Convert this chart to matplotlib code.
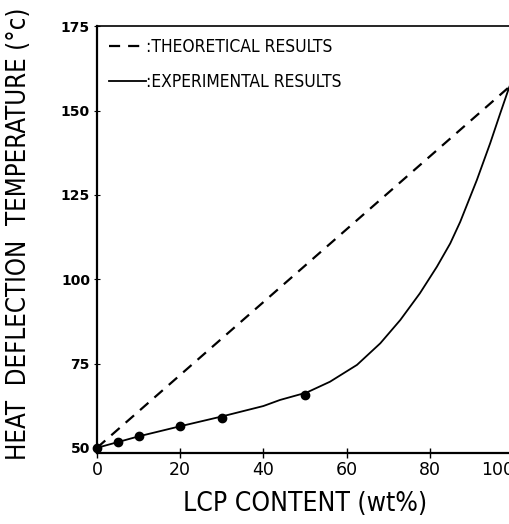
import matplotlib
matplotlib.use('Agg')
import matplotlib.pyplot as plt
import matplotlib.transforms as mtransforms

# heat deflection temperature vs LCP content
lcp_pts = [0, 5, 10, 20, 30, 50]
hdt_pts = [50.0, 51.6, 53.6, 56.6, 58.8, 65.7]

# experimental trend curve
curve_x = [0, 10, 20, 30, 40, 44.0, 50.4, 56.0, 62.5, 68.1, 72.9, 77.6,
           81.7, 84.9, 87.3, 91.3, 94.5, 96.9, 99.1, 100]
curve_y = [50, 53.4, 56.4, 59.3, 62.4, 64.2, 66.4, 69.6, 74.6, 81.0, 87.9, 95.8,
           103.7, 110.6, 117.0, 129.4, 140.3, 149.1, 157.0, 159.5]

# rule-of-mixtures line
theory_x = [0, 100]
theory_y = [50, 158]

xticks = [0, 20, 40, 60, 80, 100]
yticks = [50, 75, 100, 125, 150, 175]

THIN = dict(family='DejaVu Sans', stretch='condensed')

fig = plt.figure(figsize=(5.10, 5.24), dpi=100)
ax = fig.add_axes([0.19, 0.135, 0.816, 0.815])

ax.plot(theory_x, theory_y, color='black', lw=1.6, ls=(0, (5, 3.6)),
        label=':THEORETICAL RESULTS')
ax.plot(curve_x, curve_y, color='black', lw=1.3, label=':EXPERIMENTAL RESULTS')
ax.plot(lcp_pts, hdt_pts, 'o', color='black', ms=6, clip_on=False)

ax.set_xlim(0, 100)
ax.set_ylim(48.4, 175)
ax.set_xticks(xticks)
ax.set_yticks(yticks)
ax.set_xticklabels([str(v) for v in xticks], fontsize=12.5)
ax.set_yticklabels([str(v) for v in yticks], fontsize=10, fontweight='bold')
ax.tick_params(axis='x', direction='inout', length=7, width=1, pad=2)
ax.tick_params(axis='y', direction='inout', length=4, width=0.8, pad=3)
for s in ['left', 'bottom']:
    ax.spines[s].set_linewidth(1.6)
ax.spines['top'].set_linewidth(1.2)
ax.spines['right'].set_visible(False)

# last x label sits at the right edge; pull it in a little
last = ax.get_xticklabels()[-1]
last.set_transform(last.get_transform() +
                   mtransforms.ScaledTranslation(-15 / 100, 0, fig.dpi_scale_trans))

ax.set_xlabel('LCP CONTENT (wt%)', fontsize=19, labelpad=9, **THIN)
ax.set_ylabel('HEAT  DEFLECTION  TEMPERATURE (°c)', fontsize=18.5, **THIN)
ax.yaxis.set_label_coords(-0.155, 0.515)

leg = ax.legend(loc='upper left', frameon=False, handlelength=2.1, handletextpad=0.05,
                borderaxespad=0.3, labelspacing=0.95,
                prop=dict(size=12.5, **THIN))

fig.savefig('out.png', dpi=100)
